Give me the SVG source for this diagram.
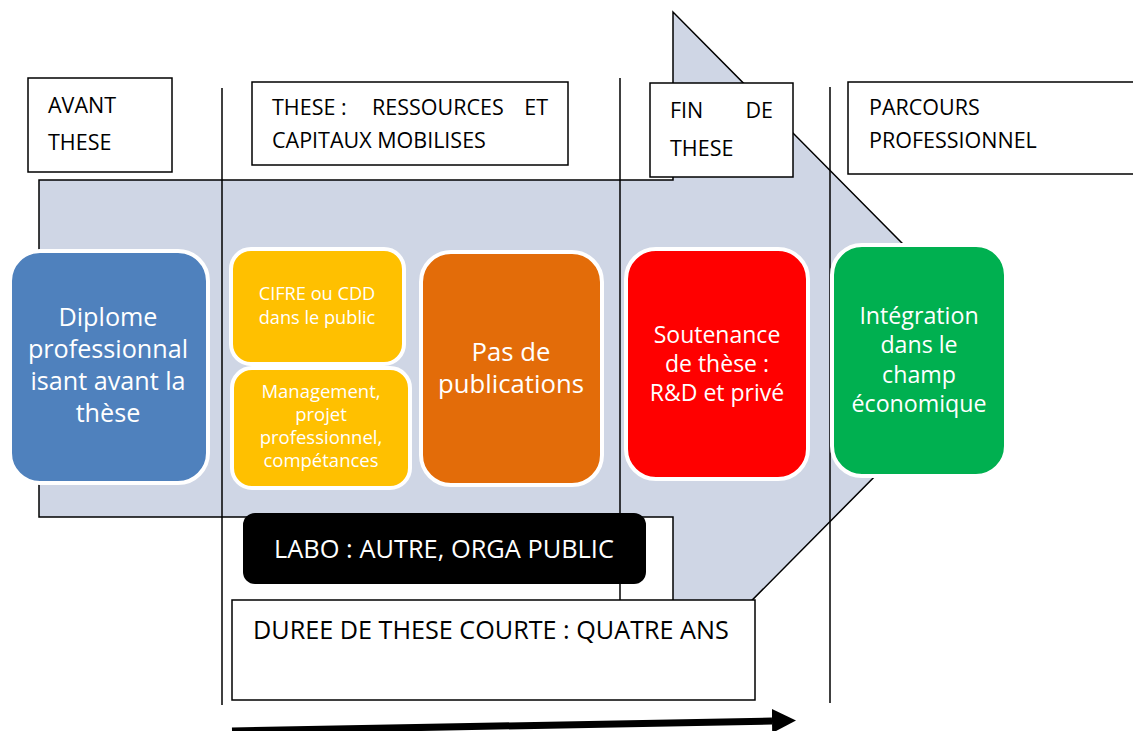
<svg xmlns="http://www.w3.org/2000/svg" width="1133" height="731" viewBox="0 0 1133 731">
<defs>
<style>
.hdr{fill:#fff;stroke:#000;stroke-width:1.5}
.ht{font-family:"Open Sans","Liberation Sans",sans-serif;font-size:21.5px;fill:#000}
.sep{stroke:#000;stroke-width:1.5;fill:none}
.node{stroke:#fff;stroke-width:4}
.nt{font-family:"Open Sans","Liberation Sans",sans-serif;fill:#fff;text-anchor:middle}
</style>
<marker id="ah" viewBox="0 0 24 24" markerWidth="24" markerHeight="24" refX="0" refY="12" orient="auto" markerUnits="userSpaceOnUse">
<path d="M0,0 L24,12 L0,24 Z" fill="#000"/>
</marker>
</defs>
<rect width="1133" height="731" fill="#fff"/>
<g id="big-arrow">
<path d="M39,180 L673,180 L673,12 L1004,346 L673,680 L673,517 L39,517 Z" fill="#CFD6E5" stroke="#000" stroke-width="1.5"/>
</g>
<g id="separators">
<line class="sep" x1="222" y1="88" x2="222" y2="705"/>
<line class="sep" x1="620" y1="78" x2="620" y2="600"/>
<line class="sep" x1="830" y1="87" x2="830" y2="703"/>
</g>
<g id="hdr-avant">
<rect class="hdr" x="28" y="78" width="144" height="94"/>
<text class="ht" x="48" y="113">AVANT</text>
<text class="ht" x="48" y="150">THESE</text>
</g>
<g id="hdr-these">
<rect class="hdr" x="252" y="82" width="316" height="83"/>
<text class="ht" x="272" y="115">THESE :</text>
<text class="ht" x="372" y="115">RESSOURCES</text>
<text class="ht" x="548" y="115" text-anchor="end">ET</text>
<text class="ht" x="272" y="148">CAPITAUX MOBILISES</text>
</g>
<g id="hdr-fin">
<rect class="hdr" x="650" y="83" width="143" height="94"/>
<text class="ht" x="670" y="118">FIN</text>
<text class="ht" x="773" y="118" text-anchor="end">DE</text>
<text class="ht" x="670" y="156">THESE</text>
</g>
<g id="hdr-parcours">
<rect class="hdr" x="848" y="82" width="290" height="92"/>
<text class="ht" x="869" y="115">PARCOURS</text>
<text class="ht" x="869" y="148">PROFESSIONNEL</text>
</g>
<g id="node-diplome">
<rect class="node" x="10" y="251" width="198" height="232" rx="30" fill="#4F81BD"/>
<text class="nt" font-size="25.2"><tspan x="108" y="326">Diplome</tspan><tspan x="108" y="358">professionnal</tspan><tspan x="108" y="390">isant avant la</tspan><tspan x="108" y="422">thèse</tspan></text>
</g>
<g id="node-cifre">
<rect class="node" x="231" y="249" width="173" height="115" rx="20" fill="#FFC000"/>
<text class="nt" font-size="18.2"><tspan x="317" y="300">CIFRE ou CDD</tspan><tspan x="317" y="324">dans le public</tspan></text>
</g>
<g id="node-management">
<rect class="node" x="232" y="368" width="178" height="120" rx="20" fill="#FFC000"/>
<text class="nt" font-size="18.5"><tspan x="321" y="398">Management,</tspan><tspan x="321" y="421">projet</tspan><tspan x="321" y="444">professionnel,</tspan><tspan x="321" y="467">compétances</tspan></text>
</g>
<g id="node-publications">
<rect class="node" x="421" y="252" width="181" height="233" rx="30" fill="#E36C09"/>
<text class="nt" font-size="25.7"><tspan x="511" y="361">Pas de</tspan><tspan x="511" y="393">publications</tspan></text>
</g>
<g id="node-soutenance">
<rect class="node" x="626" y="249" width="182" height="230" rx="30" fill="#FF0000"/>
<text class="nt" font-size="23"><tspan x="717" y="343">Soutenance</tspan><tspan x="717" y="372">de thèse :</tspan><tspan x="717" y="401">R&amp;D et privé</tspan></text>
</g>
<g id="node-integration">
<rect class="node" x="832" y="245" width="174" height="231" rx="30" fill="#00B050"/>
<text class="nt" font-size="23.2"><tspan x="919" y="324">Intégration</tspan><tspan x="919" y="353">dans le</tspan><tspan x="919" y="383">champ</tspan><tspan x="919" y="412">économique</tspan></text>
</g>
<g id="node-labo">
<rect x="243" y="513" width="403" height="71" rx="12" fill="#000"/>
<text class="nt" font-size="25.4" x="444" y="558">LABO : AUTRE, ORGA PUBLIC</text>
</g>
<g id="node-duree">
<rect class="hdr" x="232" y="600" width="523" height="100"/>
<text x="253" y="639" font-family="Open Sans, Liberation Sans, sans-serif" font-size="25.2" fill="#000">DUREE DE THESE COURTE : QUATRE ANS</text>
</g>
<g id="connectors">
<line x1="232" y1="731" x2="772" y2="721" stroke="#000" stroke-width="7" marker-end="url(#ah)"/>
</g>
</svg>
